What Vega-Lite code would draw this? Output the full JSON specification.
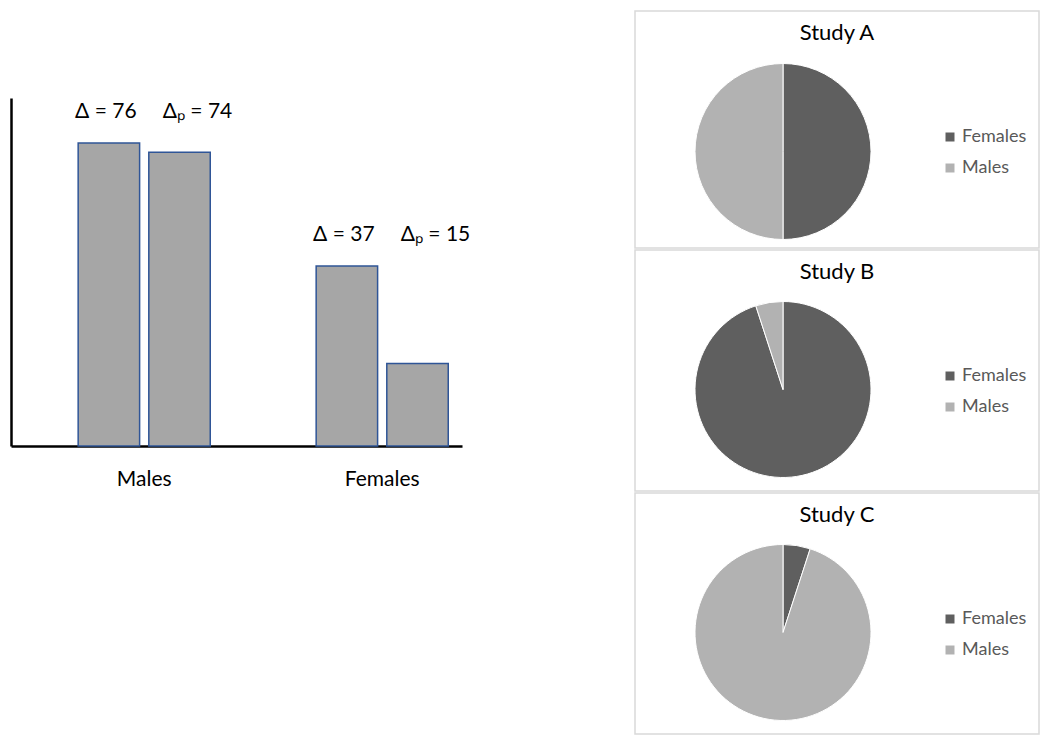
{
  "$schema": "https://vega.github.io/schema/vega-lite/v6.json",
  "background": "white",
  "padding": {"left": 11, "top": 10, "right": 0, "bottom": 0},
  "config": {"view": {"stroke": null}, "font": "Lato"},
  "spacing": 163,
  "hconcat": [
    {
      "width": 451,
      "height": 435,
      "data": {
        "values": [
          {"group": "Males", "measure": "delta", "height": 87.1, "label": "Δ = 76"},
          {"group": "Males", "measure": "deltaP", "height": 84.4, "label": "Δₚ = 74"},
          {"group": "Females", "measure": "delta", "height": 51.7, "label": "Δ = 37"},
          {"group": "Females", "measure": "deltaP", "height": 23.7, "label": "Δₚ = 15"}
        ]
      },
      "transform": [
        {"joinaggregate": [{"op": "max", "field": "height", "as": "groupMax"}], "groupby": ["group"]}
      ],
      "encoding": {
        "x": {
          "field": "group", "type": "nominal", "sort": ["Males", "Females"],
          "scale": {"paddingInner": 0.445, "paddingOuter": 0.17, "align": 0.83},
          "axis": {"title": null, "ticks": false, "labelAngle": 0, "labelFontSize": 21, "labelColor": "black", "labelPadding": 22, "domainColor": "black", "domainWidth": 2.5, "grid": false}
        },
        "xOffset": {
          "field": "measure", "type": "nominal", "sort": ["delta", "deltaP"],
          "scale": {"paddingInner": 0.13, "paddingOuter": 0}
        }
      },
      "layer": [
        {
          "mark": {"type": "bar", "fill": "#a6a6a6", "stroke": "#2f5597", "strokeWidth": 1.5},
          "encoding": {
            "y": {
              "field": "height", "type": "quantitative",
              "scale": {"domain": [0, 100], "nice": false, "range": [435, 87]},
              "axis": {"title": null, "labels": false, "ticks": false, "grid": false, "domainColor": "black", "domainWidth": 2.5}
            }
          }
        },
        {
          "transform": [{"filter": "datum.measure === 'delta'"}],
          "mark": {"type": "text", "fontSize": 21, "color": "black", "baseline": "alphabetic", "dy": -25, "dx": -3},
          "encoding": {
            "y": {"field": "groupMax", "type": "quantitative"},
            "text": {"field": "label"}
          }
        },
        {
          "transform": [{"filter": "datum.measure === 'deltaP'"}],
          "mark": {"type": "text", "fontSize": 21, "color": "black", "baseline": "alphabetic", "dy": -25, "dx": 18},
          "encoding": {
            "y": {"field": "groupMax", "type": "quantitative"},
            "text": {"field": "label"}
          }
        }
      ]
    },
    {
      "spacing": 0,
      "resolve": {"scale": {"color": "independent"}, "legend": {"color": "independent"}},
      "vconcat": [
        {
          "width": 404, "height": 237,
          "view": {"stroke": "#d9d9d9", "strokeWidth": 1.5},
          "title": {"text": "Study A", "offset": -51, "fontSize": 22, "fontWeight": "normal", "color": "black", "anchor": "middle", "baseline": "alphabetic"},
          "data": {"values": [{"sex": "Females", "share": 50}, {"sex": "Males", "share": 50}]},
          "mark": {"type": "arc", "radius": 88, "xOffset": -54, "yOffset": 22, "stroke": "white", "strokeWidth": 1},
          "encoding": {
            "theta": {"field": "share", "type": "quantitative", "stack": true},
            "order": {"field": "sex"},
            "color": {
              "field": "sex", "type": "nominal",
              "scale": {"domain": ["Females", "Males"], "range": ["#5f5f5f", "#b2b2b2"]},
              "legend": {"title": null, "orient": "none", "legendX": 306, "legendY": 117, "symbolType": "square", "symbolSize": 81, "symbolStrokeWidth": 0, "labelFontSize": 18, "labelColor": "#595959", "labelOffset": 3, "rowPadding": 13}
            }
          }
        },
        {
          "width": 404, "height": 241,
          "view": {"stroke": "#d9d9d9", "strokeWidth": 1.5},
          "title": {"text": "Study B", "offset": -51, "fontSize": 22, "fontWeight": "normal", "color": "black", "anchor": "middle", "baseline": "alphabetic"},
          "data": {"values": [{"sex": "Females", "share": 95}, {"sex": "Males", "share": 5}]},
          "mark": {"type": "arc", "radius": 88, "xOffset": -54, "yOffset": 19, "stroke": "white", "strokeWidth": 1},
          "encoding": {
            "theta": {"field": "share", "type": "quantitative", "stack": true},
            "order": {"field": "sex"},
            "color": {
              "field": "sex", "type": "nominal",
              "scale": {"domain": ["Females", "Males"], "range": ["#5f5f5f", "#b2b2b2"]},
              "legend": {"title": null, "orient": "none", "legendX": 306, "legendY": 117, "symbolType": "square", "symbolSize": 81, "symbolStrokeWidth": 0, "labelFontSize": 18, "labelColor": "#595959", "labelOffset": 3, "rowPadding": 13}
            }
          }
        },
        {
          "width": 404, "height": 241,
          "view": {"stroke": "#d9d9d9", "strokeWidth": 1.5},
          "title": {"text": "Study C", "offset": -51, "fontSize": 22, "fontWeight": "normal", "color": "black", "anchor": "middle", "baseline": "alphabetic"},
          "data": {"values": [{"sex": "Females", "share": 5}, {"sex": "Males", "share": 95}]},
          "mark": {"type": "arc", "radius": 88, "xOffset": -54, "yOffset": 19, "stroke": "white", "strokeWidth": 1},
          "encoding": {
            "theta": {"field": "share", "type": "quantitative", "stack": true},
            "order": {"field": "sex"},
            "color": {
              "field": "sex", "type": "nominal",
              "scale": {"domain": ["Females", "Males"], "range": ["#5f5f5f", "#b2b2b2"]},
              "legend": {"title": null, "orient": "none", "legendX": 306, "legendY": 117, "symbolType": "square", "symbolSize": 81, "symbolStrokeWidth": 0, "labelFontSize": 18, "labelColor": "#595959", "labelOffset": 3, "rowPadding": 13}
            }
          }
        }
      ]
    }
  ]
}
